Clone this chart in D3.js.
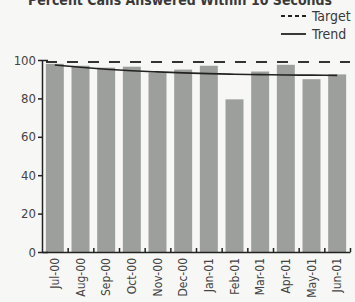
<!DOCTYPE html>
<html>
<head>
<meta charset="utf-8">
<script src="https://cdn.jsdelivr.net/npm/d3@7"></script>
<style>
  body { margin: 0; background: #f7f7f5; }
  svg { display: block; }
  text { font-family: "DejaVu Sans Condensed", "DejaVu Sans", sans-serif; font-stretch: condensed; fill: #3a3a3a; }
</style>
</head>
<body>
<div id="chart"></div>
<script>
// data
const months = ['Jul-00', 'Aug-00', 'Sep-00', 'Oct-00', 'Nov-00', 'Dec-00',
    'Jan-01', 'Feb-01', 'Mar-01', 'Apr-01', 'May-01', 'Jun-01'];
const answered = [98, 97, 96, 96.5, 93.5, 95, 97, 79.5, 94, 97.5, 90, 92.5];
const trend = [97.4, 96.2, 95.2, 94.4, 93.8, 93.3, 92.9, 92.6, 92.4, 92.2, 92.1, 92.0];
const target = 99;
const yTicks = [0, 20, 40, 60, 80, 100];

const W = 355, H = 302;
const margin = { top: 60, right: 5, bottom: 50, left: 42 };

const svg = d3.select('#chart').append('svg')
    .attr('width', W)
    .attr('height', H);

const x = d3.scaleBand().domain(months).range([margin.left, W - margin.right]).paddingInner(0.3).paddingOuter(0.15);
const y = d3.scaleLinear().domain([0, 100]).range([H - margin.bottom, margin.top]);

// title, mostly cut off at the top
svg.append('text')
    .attr('x', 180)
    .attr('y', 5)
    .attr('text-anchor', 'middle')
    .style('font-size', '14px')
    .style('font-weight', 'bold')
    .text('Percent Calls Answered Within 10 Seconds');

// bars
svg.selectAll('rect.bar')
    .data(answered)
    .enter().append('rect')
    .attr('class', 'bar')
    .attr('x', (d, i) => x(months[i]))
    .attr('y', d => y(d))
    .attr('width', x.bandwidth())
    .attr('height', d => y(0) - y(d))
    .style('fill', '#9c9f9b');

// target dashed line
svg.append('line')
    .attr('x1', margin.left + 4)
    .attr('x2', W - margin.right)
    .attr('y1', y(target))
    .attr('y2', y(target))
    .style('stroke', '#333')
    .style('stroke-width', 2)
    .style('stroke-dasharray', '11,10');

// trend line
const line = d3.line()
    .x((d, i) => x(months[i]) + x.bandwidth() / 2)
    .y(d => y(d))
    .curve(d3.curveMonotoneX);

svg.append('path')
    .datum(trend)
    .attr('d', line)
    .style('fill', 'none')
    .style('stroke', '#222')
    .style('stroke-width', 1.6);

// y axis
const yAxis = svg.append('g')
    .attr('transform', 'translate(' + margin.left + ',0)')
    .call(d3.axisLeft(y).tickValues(yTicks).tickSize(4).tickSizeOuter(-6).tickPadding(2));
yAxis.selectAll('text').style('font-size', '13px').style('fill', '#444');
yAxis.selectAll('line, path').style('stroke', '#222').style('stroke-width', 1.5);

// x axis, ticks at band edges pointing up
const edge = d3.scaleLinear().domain([0, months.length]).range(x.range());
const xAxis = svg.append('g')
    .attr('transform', 'translate(0,' + y(0) + ')')
    .call(d3.axisBottom(edge).tickValues(d3.range(1, months.length + 1)).tickSize(-4).tickSizeOuter(0).tickFormat(''));
xAxis.selectAll('line, path').style('stroke', '#222').style('stroke-width', 1.5);

// month labels, rotated
svg.selectAll('text.month')
    .data(months)
    .enter().append('text')
    .attr('class', 'month')
    .attr('transform', d => 'translate(' + (x(d) + x.bandwidth() / 2 + 4) + ',' + (y(0) + 6) + ') rotate(-90)')
    .attr('text-anchor', 'end')
    .style('font-size', '12px')
    .style('fill', '#444')
    .text(d => d);

// legend
const legend = [{ name: 'Target', dash: '4,3', y: 16 }, { name: 'Trend', dash: null, y: 34 }];
const lg = svg.selectAll('g.legend')
    .data(legend)
    .enter().append('g')
    .attr('class', 'legend');
lg.append('line')
    .attr('x1', 281).attr('x2', 306)
    .attr('y1', d => d.y).attr('y2', d => d.y)
    .style('stroke', '#222')
    .style('stroke-width', 1.8)
    .style('stroke-dasharray', d => d.dash);
lg.append('text')
    .attr('x', 312)
    .attr('y', d => d.y + 5)
    .style('font-size', '14px')
    .text(d => d.name);
</script>
</body>
</html>
